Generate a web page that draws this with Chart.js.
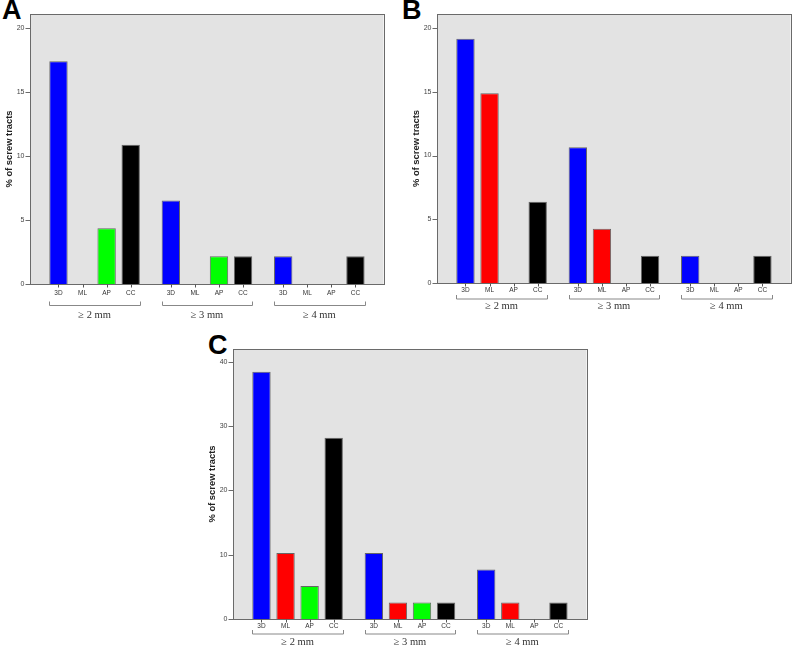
<!DOCTYPE html>
<html lang="en">
<head>
<meta charset="UTF-8">
<title>% of screw tracts</title>
<script src="https://cdn.jsdelivr.net/npm/chart.js"></script>
<style>
  html, body { margin: 0; padding: 0; background: #fff; overflow: hidden; }
  body { position: relative; width: 792px; height: 651px; }
  canvas { position: absolute; }
  .letter { position: absolute; font-family: "Liberation Sans", Arial, sans-serif; font-weight: bold; font-size: 27px; line-height: 1; color: #000; }
</style>
</head>
<body>
<div class="letter" style="left:2px;top:-3px">A</div>
<div class="letter" style="left:402px;top:-3px">B</div>
<div class="letter" style="left:208px;top:332px">C</div>
<canvas id="chartA" width="385" height="325" style="left:0;top:0"></canvas>
<canvas id="chartB" width="385" height="325" style="left:407px;top:0"></canvas>
<canvas id="chartC" width="385" height="316" style="left:203px;top:335px"></canvas>
<script>
const groups = ['≥ 2 mm', '≥ 3 mm', '≥ 4 mm'];
const methods = ['3D', 'ML', 'AP', 'CC'];
const yTitle = '% of screw tracts';

// panel A
const a3D = [17.39, 6.52, 2.17];
const aML = [0, 0, 0];
const aAP = [4.35, 2.17, 0];
const aCC = [10.87, 2.17, 2.17];

// panel B
const b3D = [19.15, 10.64, 2.13];
const bML = [14.89, 4.26, 0];
const bAP = [0, 0, 0];
const bCC = [6.38, 2.13, 2.13];

// panel C
const c3D = [38.46, 10.26, 7.69];
const cML = [10.26, 2.56, 2.56];
const cAP = [5.13, 2.56, 0];
const cCC = [28.21, 2.56, 2.56];

const barColors = ['#0000ff', '#ff0000', '#00ff00', '#000000'];
const sans = '"Liberation Sans", Arial, sans-serif';

// gray SPSS-style frame, wider than the bar area, plus the bar labels and brackets under the axis
const spssFrame = {
    id: 'spssFrame',
    beforeDatasetsDraw(chart, args, opts) {
        const { ctx, chartArea: a } = chart;
        ctx.save();
        ctx.fillStyle = '#e3e3e3';
        ctx.fillRect(a.left - opts.padL, a.top, a.right - a.left + opts.padL + opts.padR, a.bottom - a.top);
        ctx.restore();
    },
    afterDatasetsDraw(chart, args, opts) {
        const { ctx, chartArea: a, scales } = chart;
        const left = Math.round(a.left - opts.padL) + 0.5;
        const right = Math.round(a.right + opts.padR) + 0.5;
        const top = Math.round(a.top) + 0.5;
        const base = Math.round(a.bottom) + 0.5;
        ctx.save();
        ctx.strokeStyle = '#6a6a6a';
        ctx.lineWidth = 1;
        ctx.strokeRect(left, top, right - left, base - top);

        scales.y.ticks.forEach(t => {
            const y = Math.round(scales.y.getPixelForValue(t.value)) + 0.5;
            ctx.beginPath(); ctx.moveTo(left - 5, y); ctx.lineTo(left, y); ctx.stroke();
        });

        ctx.font = '6.5px ' + sans;
        ctx.fillStyle = '#333';
        ctx.textAlign = 'center';
        ctx.textBaseline = 'middle';
        const metas = chart.data.datasets.map((d, i) => chart.getDatasetMeta(i));
        groups.forEach((g, gi) => {
            metas.forEach((m, di) => {
                const bar = m.data[gi];
                const x = Math.round(bar.x) + 0.5;
                ctx.strokeStyle = '#555';
                ctx.beginPath(); ctx.moveTo(x, base); ctx.lineTo(x, base + 3); ctx.stroke();
                ctx.fillText(chart.data.datasets[di].label, bar.x, base + opts.labelY);
            });
            const first = metas[0].data[gi];
            const last = metas[metas.length - 1].data[gi];
            const x0 = Math.round(first.x - first.width / 2) + 0.5;
            const x1 = Math.round(last.x + last.width / 2) + 0.5;
            const yb = base + opts.bracketY;
            ctx.strokeStyle = '#888';
            ctx.beginPath();
            ctx.moveTo(x0, yb - 4); ctx.lineTo(x0, yb); ctx.lineTo(x1, yb); ctx.lineTo(x1, yb - 4);
            ctx.stroke();
        });
        ctx.restore();
    }
};

function makePanel(id, series, yMax, yStep, o) {
    new Chart(document.getElementById(id), {
        type: 'bar',
        data: {
            labels: groups,
            datasets: methods.map((m, i) => ({
                label: m,
                data: series[i],
                backgroundColor: barColors[i],
                borderColor: 'rgba(0,0,0,0.55)',
                borderWidth: 1,
                categoryPercentage: 0.857,
                barPercentage: 0.763
            }))
        },
        options: {
            responsive: false,
            animation: false,
            layout: { padding: { top: 14, right: 9.5, left: 0, bottom: 0 } },
            plugins: {
                legend: { display: false },
                tooltip: { enabled: false },
                spssFrame: { padL: 8.4, padR: 8, labelY: o.labelY, bracketY: o.bracketY }
            },
            scales: {
                x: {
                    grid: { display: false, drawTicks: false },
                    border: { display: false },
                    ticks: {
                        padding: o.groupPad,
                        color: '#333',
                        maxRotation: 0,
                        font: { family: '"Liberation Serif", "Times New Roman", serif', size: 10.5 }
                    },
                    afterFit: s => { s.height = o.xh; }
                },
                y: {
                    min: 0,
                    max: yMax,
                    grid: { display: false, drawTicks: false },
                    border: { display: false },
                    ticks: {
                        stepSize: yStep,
                        includeBounds: false,
                        padding: 13.9,
                        color: '#444',
                        font: { family: sans, size: 7 }
                    },
                    title: {
                        display: true,
                        text: yTitle,
                        color: '#222',
                        font: { family: sans, size: 9.4, weight: 'bold' },
                        padding: { top: 3.4, bottom: 0 }
                    },
                    afterFit: s => { s.width = 38.4; s.paddingTop = 0; s.paddingBottom = 0; }
                }
            }
        },
        plugins: [spssFrame]
    });
}

makePanel('chartA', [a3D, aML, aAP, aCC], 21.07, 5, { xh: 41, labelY: 9, bracketY: 21, groupPad: 24.7 });
makePanel('chartB', [b3D, bML, bAP, bCC], 21.1, 5, { xh: 42, labelY: 7, bracketY: 15.5, groupPad: 16.7 });
makePanel('chartC', [c3D, cML, cAP, cCC], 42.0, 10, { xh: 32, labelY: 7, bracketY: 14.5, groupPad: 16.7 });
</script>
</body>
</html>
